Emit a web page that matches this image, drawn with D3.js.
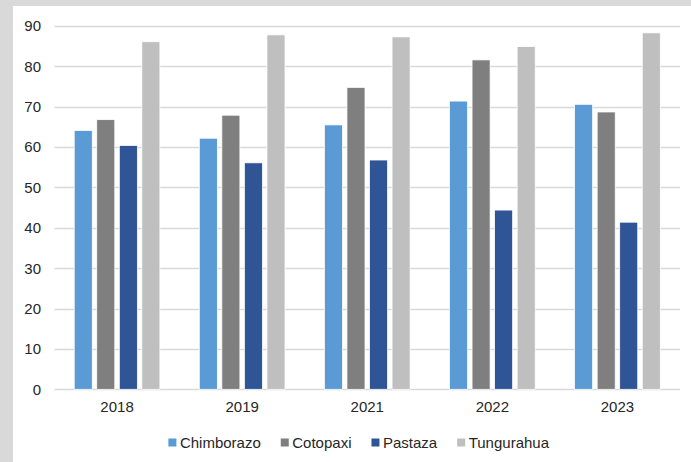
<!DOCTYPE html>
<html>
<head>
<meta charset="utf-8">
<script src="https://cdn.jsdelivr.net/npm/d3@7"></script>
<style>
  html, body { margin: 0; padding: 0; background: #d9d9d9; }
  svg { display: block; }
  text { font-family: "Liberation Sans", Arial, sans-serif; }
</style>
</head>
<body>
<svg id="chart" width="691" height="462"></svg>
<script>
// Years on the category axis
const years = ["2018", "2019", "2021", "2022", "2023"];
// Provinces (series)
const provinces = ["Chimborazo", "Cotopaxi", "Pastaza", "Tungurahua"];
// Values per province, one per year
const chimborazo = [64.1, 62.2, 65.5, 71.4, 70.6];
const cotopaxi   = [66.8, 67.9, 74.8, 81.6, 68.7];
const pastaza    = [60.4, 56.1, 56.8, 44.4, 41.4];
const tungurahua = [86.1, 87.8, 87.3, 84.9, 88.3];
// Value axis ticks
const yTicks = [0, 10, 20, 30, 40, 50, 60, 70, 80, 90];

const seriesValues = [chimborazo, cotopaxi, pastaza, tungurahua];
const colors = ["#5b9bd5", "#7f7f7f", "#2f5597", "#bfbfbf"];

const svg = d3.select("#chart");

// White chart panel inside the grey frame
svg.append("rect")
  .attr("x", 13).attr("y", 6)
  .attr("width", 691 - 13).attr("height", 462 - 6)
  .attr("fill", "#ffffff");

const plotLeft = 54.5, plotRight = 680, plotTop = 26, plotBottom = 389.3;

const y = d3.scaleLinear().domain([0, 90]).range([plotBottom, plotTop]);
const x0 = d3.scaleBand().domain(years).range([plotLeft, plotRight])
  .paddingInner(0.315).paddingOuter(0.1575);
const x1 = d3.scaleBand().domain(provinces).range([0, x0.bandwidth()])
  .paddingInner(0.2).paddingOuter(0);
const color = d3.scaleOrdinal().domain(provinces).range(colors);

// Horizontal gridlines
svg.append("g")
  .selectAll("line")
  .data(yTicks)
  .join("line")
  .attr("x1", plotLeft).attr("x2", plotRight)
  .attr("y1", d => Math.round(y(d)) + 0.5)
  .attr("y2", d => Math.round(y(d)) + 0.5)
  .attr("stroke", "#d9d9d9")
  .attr("stroke-width", 1.3);

// Y axis labels
const yAxis = d3.axisLeft(y).tickValues(yTicks).tickSize(0).tickPadding(0);
const gy = svg.append("g")
  .attr("transform", `translate(${41},0)`)
  .call(yAxis);
gy.select(".domain").remove();
gy.selectAll("text")
  .attr("font-size", "15px")
  .attr("fill", "#262626")
  .attr("font-family", "'Liberation Sans', Arial, sans-serif");

// X axis labels
const xAxis = d3.axisBottom(x0).tickSize(0).tickPadding(0);
const gx = svg.append("g")
  .attr("transform", `translate(0,${plotBottom})`)
  .call(xAxis);
gx.select(".domain").remove();
gx.selectAll("text")
  .attr("dy", null)
  .attr("y", 23.2)
  .attr("font-size", "15px")
  .attr("fill", "#262626")
  .attr("font-family", "'Liberation Sans', Arial, sans-serif");

// Bars
const rows = years.map((yr, i) => ({
  year: yr,
  values: provinces.map((p, j) => ({ province: p, value: seriesValues[j][i] }))
}));

svg.append("g")
  .selectAll("g")
  .data(rows)
  .join("g")
  .attr("transform", d => `translate(${x0(d.year)},0)`)
  .selectAll("rect")
  .data(d => d.values)
  .join("rect")
  .attr("x", d => x1(d.province))
  .attr("y", d => y(d.value))
  .attr("width", x1.bandwidth())
  .attr("height", d => y(0) - y(d.value))
  .attr("fill", d => color(d.province))
  .attr("stroke", "#ffffff")
  .attr("stroke-width", 0.75);

// Legend
const legend = svg.append("g").attr("transform", "translate(0,442.5)");
const items = legend.selectAll("g")
  .data(provinces)
  .join("g");
items.append("rect")
  .attr("y", -4).attr("width", 8).attr("height", 8)
  .attr("fill", d => color(d));
items.append("text")
  .attr("x", 11.5)
  .attr("dy", "0.35em")
  .attr("font-size", "15px")
  .attr("fill", "#262626")
  .text(d => d);

let cursor = 0;
const positions = [];
items.each(function () {
  const w = 11.5 + d3.select(this).select("text").node().getComputedTextLength();
  positions.push(cursor);
  cursor += w + 20;
});
const totalWidth = cursor - 20;
const startX = 358.7 - totalWidth / 2;
items.attr("transform", (d, i) => `translate(${startX + positions[i]},0)`);
</script>
</body>
</html>
